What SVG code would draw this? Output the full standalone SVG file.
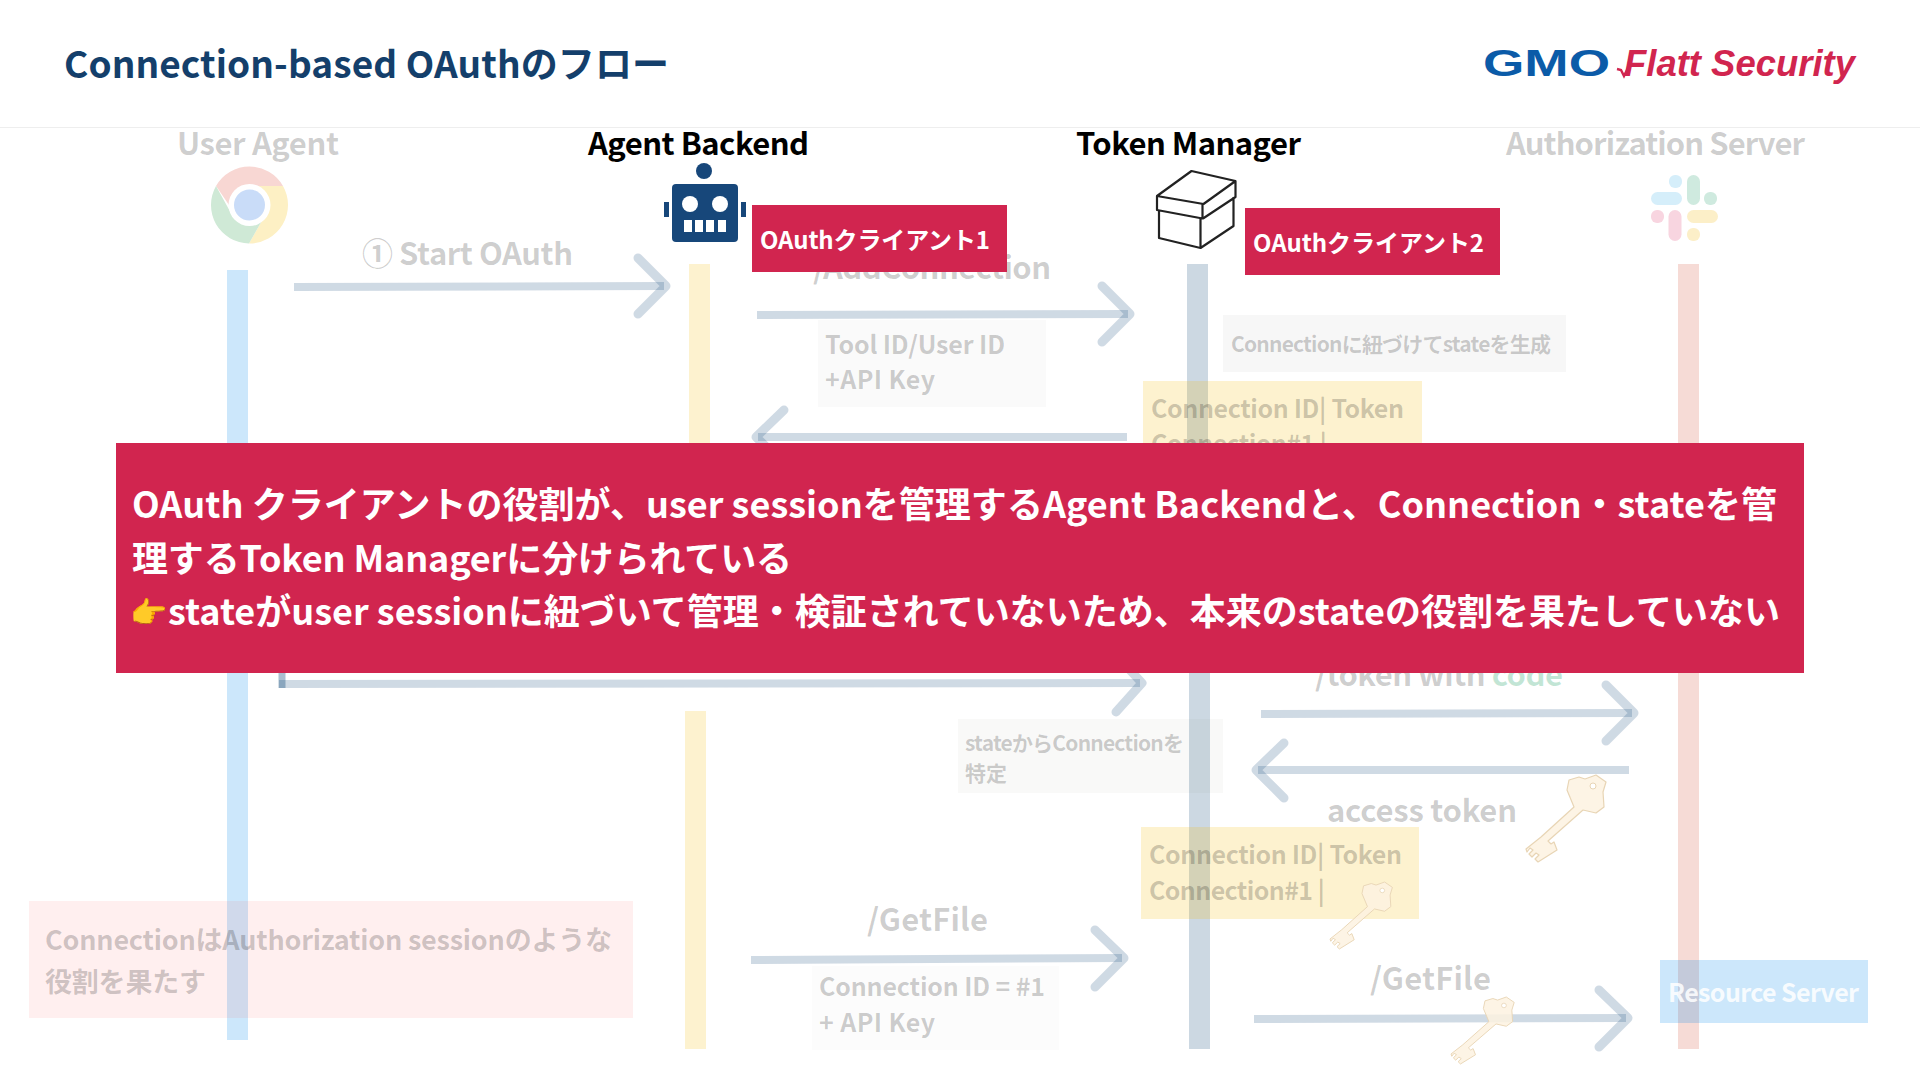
<svg xmlns="http://www.w3.org/2000/svg" width="1920" height="1080" viewBox="0 0 1920 1080">
<style>
text{font-family:"Noto Sans CJK JP","Noto Sans",sans-serif;font-weight:500}
.b{font-weight:700}
.f{fill:#000;fill-opacity:.2}
.h{font-size:31px}
.m{font-size:25px}
.s{font-size:21px}
.ll{fill-opacity:.2}
.blue{fill:#0087eb}
.yel{fill:#f5be0f}
.nav{fill:#003d70}
.red{fill:#d24b32}
.arrow{fill:none;stroke:#003d70;stroke-opacity:.19;stroke-width:8}
.head{stroke-linecap:round;stroke-linejoin:round;stroke-width:9}
.w{fill:#fff}
.lbl{fill:#d1254f}
</style>
<defs>
<g id="key"><path d="M43 5 53 2 59 4 70 0 80 7 77 17 78 32 70 38 57 35 22 66 25 69 28 67 31 75 12 87 9 84 13 80 10 78 6 82 3 79 7 75 4 73 1 77 0 74 15 62 48 32 41 15Z" fill="#fdf2e0" fill-opacity=".85" stroke="#e8d5b5" stroke-width="1.2" stroke-linejoin="round"/><circle cx="67" cy="11" r="3" fill="#fff" stroke="#e8d5b5"/></g>
</defs>
<rect width="1920" height="1080" fill="#fff"/>
<rect y="127" width="1920" height="1" fill="#eeeeee"/>
<text id="title" class="b" x="64" y="78" font-size="37" fill="#143f6b" textLength="605">Connection-based OAuthのフロー</text>
<g id="logo">
<text x="1483" y="76" font-size="36" textLength="127" lengthAdjust="spacingAndGlyphs" style="font-family:'Liberation Sans',sans-serif;font-weight:700" fill="#0b5ba8">GMO</text>
<path d="M1617 69 1621 70 1624 76 1628 68" fill="none" stroke="#d1254f" stroke-width="2.5"/>
<text x="1624" y="76" font-size="36" textLength="231" lengthAdjust="spacingAndGlyphs" style="font-family:'Liberation Sans',sans-serif;font-weight:700;font-style:italic" fill="#d1254f">Flatt Security</text>
</g>
<g id="node-user-agent">
<text class="h f b" x="177" y="155" textLength="162">User Agent</text>
<path d="M249.500 166.500A38.500 38.500 0 0 1 283 186L249.500 186 229 205 216 186A38.500 38.500 0 0 1 249.500 166.500Z" fill="#f8d7d3"/>
<path d="M283 186A38.500 38.500 0 0 1 249 243.500L268 210 249.500 186Z" fill="#fdf0c4"/>
<path d="M216 186A38.500 38.500 0 0 0 249 243.500L268 210 232 215Z" fill="#cfe9d6"/>
<circle cx="249.500" cy="205" r="21" fill="#fff"/><circle cx="249.500" cy="205" r="15.500" fill="#c9dcf8"/>
<rect class="ll blue" x="227" y="270" width="21" height="770"/>
</g>
<g id="node-agent-backend">
<text class="h b" x="588" y="155" textLength="221" fill="#000">Agent Backend</text>
<circle cx="704" cy="171" r="8" fill="#17477a"/>
<rect x="672" y="184" width="66" height="58" rx="4" fill="#17477a"/>
<rect x="664" y="202" width="5" height="15" fill="#17477a"/><rect x="741" y="202" width="5" height="15" fill="#17477a"/>
<circle cx="690" cy="204" r="8" fill="#fff"/><circle cx="720" cy="204" r="8" fill="#fff"/>
<g fill="#fff"><rect x="684" y="220" width="8" height="12"/><rect x="695" y="220" width="8" height="12"/><rect x="706" y="220" width="8" height="12"/><rect x="718" y="220" width="8" height="12"/></g>
<rect class="ll yel" x="689" y="264" width="21" height="180"/>
<rect class="ll yel" x="685" y="711" width="21" height="338"/>
</g>
<g id="node-token-manager">
<text class="h b" x="1076" y="155" textLength="225" fill="#000">Token Manager</text>
<path d="M1191.500 171 1235.500 181 1203.500 204 1157 196ZM1157 196V210L1202.500 218.500V204M1235.500 181V197L1203 218.500M1159 210V238L1200.500 248 1233.500 226V197M1200.500 248V218" fill="none" stroke="#222" stroke-width="2.200" stroke-linejoin="round"/>
<rect class="ll nav" x="1187" y="264" width="21" height="180"/>
<rect class="ll nav" x="1189" y="673" width="21" height="376"/>
</g>
<g id="node-authorization-server">
<text class="h f b" x="1506" y="155" textLength="299">Authorization Server</text>
<g>
<rect x="1669" y="175" width="13" height="13" rx="6" fill="#d5eefa"/><rect x="1651" y="192" width="31" height="13" rx="6.500" fill="#d5eefa"/>
<rect x="1687" y="175" width="13" height="30" rx="6.500" fill="#cfeadf"/><rect x="1704" y="192" width="13" height="13" rx="6" fill="#cfeadf"/>
<rect x="1651" y="210" width="13" height="13" rx="6" fill="#f8d5e0"/><rect x="1668.500" y="210" width="13" height="31" rx="6.500" fill="#f8d5e0"/>
<rect x="1687" y="210" width="31" height="13" rx="6.500" fill="#fcefc8"/><rect x="1687" y="228" width="13" height="13" rx="6" fill="#fcefc8"/>
</g>
<rect class="ll red" x="1678" y="264" width="21" height="785"/>
</g>
<g id="connectors">
<path class="arrow" d="M294 287 664 286"/><path class="arrow head" d="M638 258 666 286 638 314"/>
<path class="arrow" d="M757 315 1128 314"/><path class="arrow head" d="M1102 286 1130 314 1102 342"/>
<path class="arrow" d="M1127 437 758 437"/><path class="arrow head" d="M784 410 756 437 784 464"/>
<path d="M282 673V688" stroke="#003d70" stroke-opacity=".33" stroke-width="7" fill="none"/>
<path class="arrow" d="M279 684 1140 683"/><path class="arrow head" d="M1116 655 1142 683 1116 712"/>
<path class="arrow" d="M1261 714 1632 713"/><path class="arrow head" d="M1606 685 1634 713 1606 741"/>
<path class="arrow" d="M1629 770 1258 770"/><path class="arrow head" d="M1284 743 1256 770 1284 798"/>
<path class="arrow" d="M751 960 1122 958"/><path class="arrow head" d="M1095 930 1124 958 1095 987"/>
<path class="arrow" d="M1254 1019 1626 1018"/><path class="arrow head" d="M1599 990 1628 1018 1599 1047"/>
</g>
<g id="node-start-oauth"><text class="h f b" x="362" y="265" textLength="211">① Start OAuth</text></g>
<g id="node-add-connection"><text class="h f b" x="813" y="279" textLength="238">/AddConnection</text></g>
<g id="node-tool-id">
<rect x="818" y="320" width="228" height="87" fill="#000" fill-opacity=".02"/>
<text class="m f b" x="825" y="354" textLength="180">Tool ID/User ID</text>
<text class="m f b" x="825" y="389" textLength="110">+API Key</text>
</g>
<g id="node-state-gen">
<rect x="1223" y="315" width="343" height="57" fill="#000" fill-opacity=".03"/>
<text class="s f b" x="1231" y="352" textLength="320">Connectionに紐づけてstateを生成</text>
</g>
<g id="node-table-1">
<rect class="ll yel" x="1143" y="381" width="279" height="63"/>
<text class="m f b" x="1151" y="418" textLength="253">Connection ID| Token</text>
<text class="m f b" x="1151" y="453" textLength="176">Connection#1 |</text>
</g>
<g id="node-token-code"><text class="h b" x="1315" y="686" textLength="248"><tspan class="f">/token with </tspan><tspan fill="#0c9a5a" fill-opacity=".25">code</tspan></text></g>
<g id="node-state-connection">
<rect x="958" y="719" width="265" height="74" fill="#3c3c14" fill-opacity=".03"/>
<text class="s f b" x="965" y="751" textLength="219">stateからConnectionを</text>
<text class="s f b" x="965" y="781">特定</text>
</g>
<g id="node-access-token">
<text class="h f b" x="1327" y="822" textLength="190">access token</text>
<use href="#key" x="1526" y="775"/>
</g>
<g id="node-table-2">
<rect class="ll yel" x="1141" y="827" width="278" height="92"/>
<text class="m f b" x="1149" y="864" textLength="253">Connection ID| Token</text>
<text class="m f b" x="1149" y="900" textLength="176">Connection#1 |</text>
<use href="#key" transform="translate(1330 882) scale(.78 .77)"/>
</g>
<g id="node-getfile-1">
<text class="h f b" x="867" y="931" textLength="121">/GetFile</text>
<rect x="812" y="966" width="247" height="84" fill="#000" fill-opacity=".012"/>
<text class="m f b" x="819" y="996" textLength="226">Connection ID = #1</text>
<text class="m f b" x="819" y="1032" textLength="116">+ API Key</text>
</g>
<g id="node-getfile-2">
<text class="h f b" x="1370" y="990" textLength="121">/GetFile</text>
<use href="#key" transform="translate(1451 997) scale(.79 .77)"/>
</g>
<g id="node-resource-server">
<rect x="1660" y="960" width="208" height="63" fill="#0087eb" fill-opacity=".2"/>
<text class="m b" x="1668" y="1002" textLength="191" fill="#fff" fill-opacity=".85">Resource Server</text>
</g>
<g id="node-note">
<rect x="29" y="901" width="604" height="117" fill="#ff5050" fill-opacity=".09"/>
<text class="f b" font-size="27" x="45" y="950" textLength="567">ConnectionはAuthorization sessionのような</text>
<text class="f b" font-size="27" x="45" y="992" textLength="161">役割を果たす</text>
</g>
<g id="node-client-1">
<rect class="lbl" x="752" y="205" width="255" height="67"/>
<text class="w b" font-size="24" x="760" y="249" textLength="230">OAuthクライアント1</text>
</g>
<g id="node-client-2">
<rect class="lbl" x="1245" y="208" width="255" height="67"/>
<text class="w b" font-size="24" x="1253" y="252" textLength="231">OAuthクライアント2</text>
</g>
<g id="node-banner">
<rect class="lbl" x="116" y="443" width="1688" height="230"/>
<text class="w b" font-size="36" x="132" y="518" textLength="1645">OAuth クライアントの役割が、user sessionを管理するAgent Backendと、Connection・stateを管</text>
<text class="w b" font-size="36" x="132" y="572" textLength="660">理するToken Managerに分けられている</text>
<text class="w b" font-size="30" x="130" y="623">👉</text>
<text class="w b" font-size="36" x="168" y="625" textLength="1612">stateがuser sessionに紐づいて管理・検証されていないため、本来のstateの役割を果たしていない</text>
</g>
</svg>
